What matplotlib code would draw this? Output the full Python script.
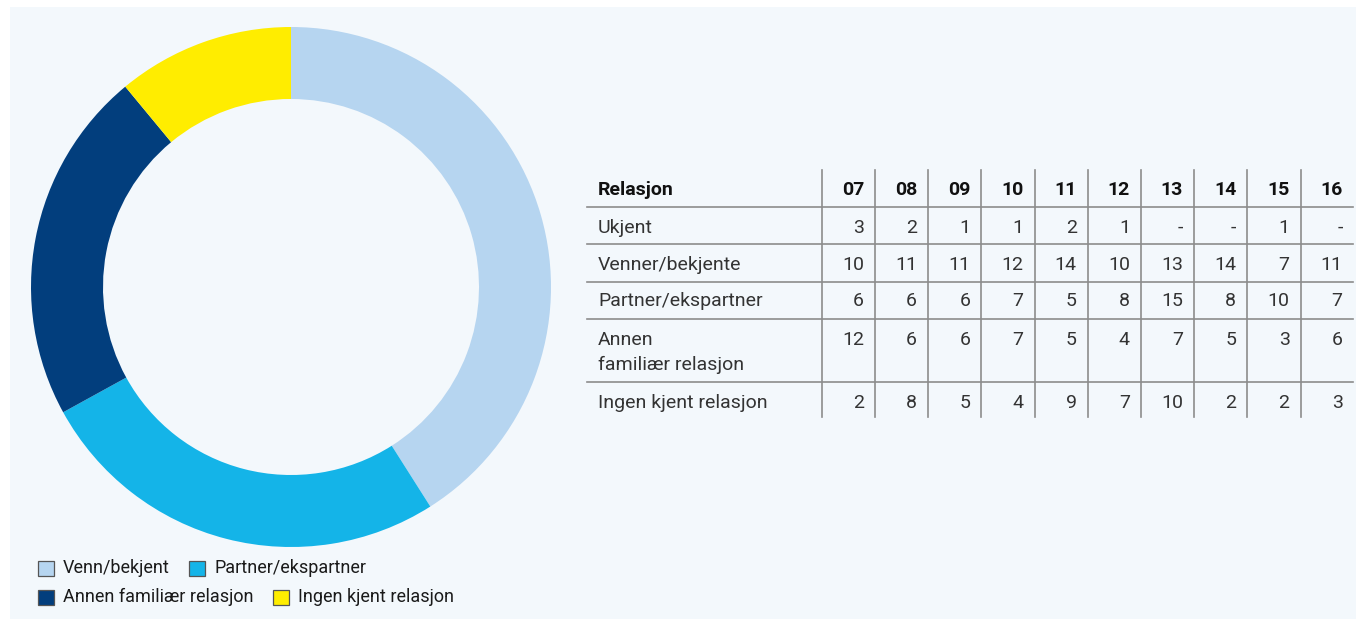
import matplotlib
matplotlib.use("Agg")
import matplotlib.pyplot as plt
from matplotlib.patches import Rectangle

plt.rcParams['font.family'] = ['Roboto', 'DejaVu Sans']

# donut shares (percent)
donut_labels = ['Venn/bekjent', 'Partner/ekspartner', 'Annen familiær relasjon', 'Ingen kjent relasjon']
donut_values = [41, 26, 22, 11]
donut_colors = ['#b6d5f0', '#14b4e8', '#023e7d', '#ffed00']

# table
years = ['07', '08', '09', '10', '11', '12', '13', '14', '15', '16']
row_labels = ['Ukjent', 'Venner/bekjente', 'Partner/ekspartner',
              'Annen\nfamiliær relasjon', 'Ingen kjent relasjon']
ukjent = ['3', '2', '1', '1', '2', '1', '-', '-', '1', '-']
venner = ['10', '11', '11', '12', '14', '10', '13', '14', '7', '11']
partner = ['6', '6', '6', '7', '5', '8', '15', '8', '10', '7']
annen = ['12', '6', '6', '7', '5', '4', '7', '5', '3', '6']
ingen = ['2', '8', '5', '4', '9', '7', '10', '2', '2', '3']
table_rows = [ukjent, venner, partner, annen, ingen]

W, H = 1360, 623
fig = plt.figure(figsize=(W / 100, H / 100), dpi=100)
fig.patch.set_facecolor('white')

# background axes in pixel coordinates
bg = fig.add_axes([0, 0, 1, 1])
bg.set_xlim(0, W)
bg.set_ylim(H, 0)
bg.axis('off')
bg.add_patch(Rectangle((10, 7), 1346, 612, facecolor='#f3f8fc', edgecolor='none', zorder=0))

# donut
cx, cy, r = 291, 287, 260
ax = fig.add_axes([(cx - r) / W, (H - cy - r) / H, 2 * r / W, 2 * r / H])
ax.pie(donut_values, colors=donut_colors, startangle=90, counterclock=False,
       radius=1, wedgeprops=dict(width=72 / 260, linewidth=0))
ax.set_xlim(-1, 1)
ax.set_ylim(-1, 1)
ax.set_aspect('equal')
ax.axis('off')

# legend (manual flow layout)
legend_pos = [(38, 568), (189, 568), (38, 597), (273, 597)]
for (lx, ly), lab, col in zip(legend_pos, donut_labels, donut_colors):
    bg.add_patch(Rectangle((lx, ly - 7.5), 16, 15, facecolor=col, edgecolor='#555555', linewidth=0.9, zorder=3))
    bg.text(lx + 25, ly, lab, fontsize=13, color='#1a1a1a', va='center', ha='left', zorder=3)

# table
line_col = '#8c8c8c'
tx0, tx1 = 587, 1353
col0 = 821.7
colw = 53.2
hlines = [206.7, 244.3, 281.7, 319, 381.7]
for y in hlines:
    bg.plot([tx0, tx1], [y, y], color=line_col, lw=1.2, zorder=2)
for k in range(len(years)):
    x = col0 + k * colw
    bg.plot([x, x], [170, 417], color=line_col, lw=1.2, zorder=2)

fs = 14
bg.text(598, 190, 'Relasjon', fontsize=fs, fontweight='bold', color='#111111', va='center', ha='left')
for k, yr in enumerate(years):
    bg.text(col0 + (k + 1) * colw - 11, 190, yr, fontsize=fs, fontweight='bold',
            color='#111111', va='center', ha='right')

row_y = [228, 265, 301.5, 340, 403]
for lab, vals, y in zip(row_labels, table_rows, row_y):
    if '\n' in lab:
        first, second = lab.split('\n')
        bg.text(598, y, first, fontsize=fs, color='#333333', va='center', ha='left')
        bg.text(598, y + 25, second, fontsize=fs, color='#333333', va='center', ha='left')
    else:
        bg.text(598, y, lab, fontsize=fs, color='#333333', va='center', ha='left')
    for k, v in enumerate(vals):
        bg.text(col0 + (k + 1) * colw - 11, y, v, fontsize=fs, color='#333333',
                va='center', ha='right')

fig.savefig('out.png', dpi=100, facecolor=fig.get_facecolor())
